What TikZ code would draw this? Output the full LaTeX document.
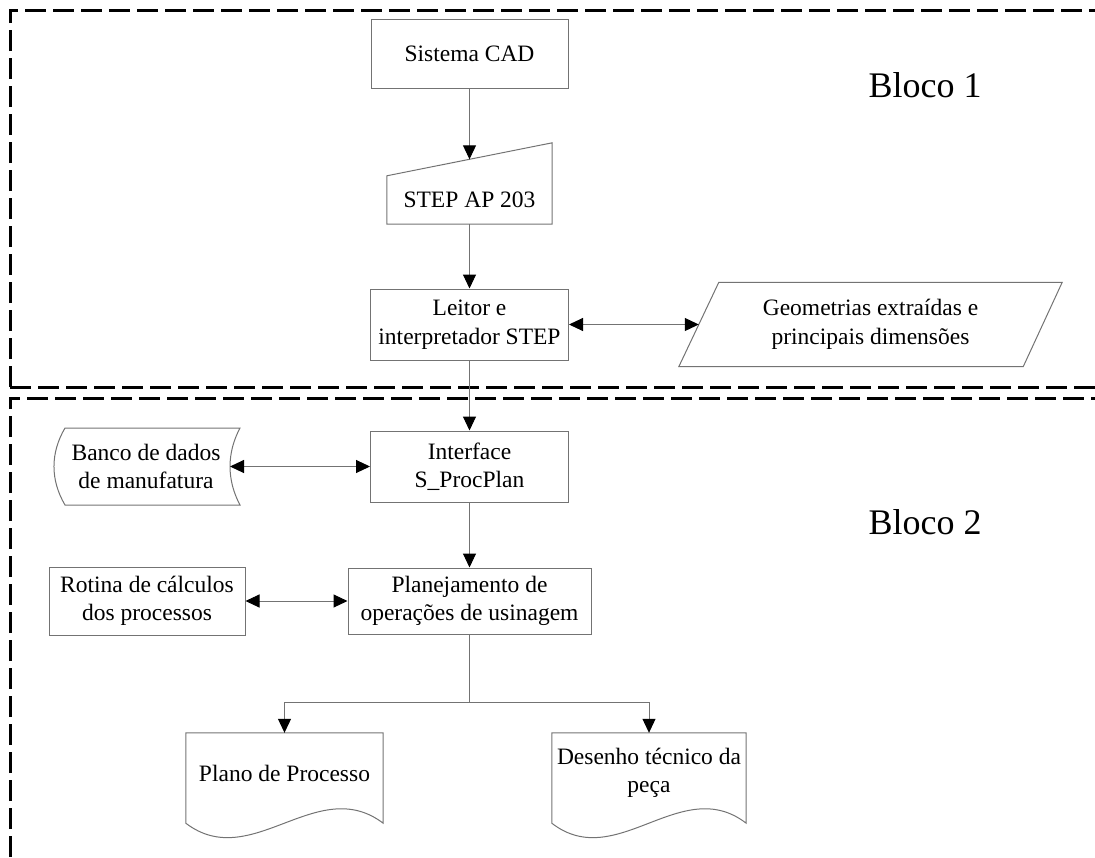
\documentclass[tikz,border=0pt]{standalone}
\usepackage{fontspec}
\setmainfont{Liberation Serif}
\usetikzlibrary{arrows.meta,calc}
\definecolor{linec}{gray}{0.45}
\begin{document}
\begin{tikzpicture}[x=1pt,y=-1pt,
  txt/.style={font=\fontsize{23.5}{28.5}\selectfont, align=center, inner sep=0pt},
  box/.style={txt, draw=linec, line width=1pt},
  shp/.style={draw=linec, line width=1pt},
  arr/.style={draw=linec, line width=1pt, -{Triangle[length=14pt,width=13pt,color=black]}},
  darr/.style={draw=linec, line width=1pt, {Triangle[length=14pt,width=13pt,color=black]}-{Triangle[length=14pt,width=13pt,color=black]}},
  con/.style={draw=linec, line width=1pt},
  blk/.style={draw=black, line width=3pt, dash pattern=on 21pt off 7pt},
  blabel/.style={font=\fontsize{36}{40}\selectfont, inner sep=0pt}]
\path[use as bounding box] (0,0) rectangle (1095,857);
% block frames
\draw[blk] (10,387) -- (10,10) -- (1095,10);
\draw[blk] (10,387) -- (1095,387);
\draw[blk] (10,857) -- (10,398) -- (1095,398);
\node[blabel] (b1) at (925,85) {Bloco 1};
\node[blabel] (b2) at (925,522) {Bloco 2};
% nodes
\node[box, minimum width=197, minimum height=69] (cad) at (469.5,53.5) {Sistema CAD};
\node[txt, minimum width=165, minimum height=48] (step) at (469.5,200) {STEP AP 203};
\draw[shp] (step.north west) -- (step.south west) -- (step.south east) -- ($(step.north east)+(0,-33)$) -- cycle;
\coordinate (steptop) at ($(step.north)+(0,-16.5)$);
\node[box, minimum width=198, minimum height=71] (leitor) at (469.5,324.5) {Leitor e\\interpretador STEP};
\node[txt, minimum width=383, minimum height=84] (geo) at (870.5,324.5) {Geometrias extraídas e\\principais dimensões};
\draw[shp] ($(geo.north west)+(40,0)$) -- (geo.north east) -- ($(geo.south east)+(-39,0)$) -- (geo.south west) -- cycle;
\coordinate (geoin) at ($(geo.west)+(20,0)$);
\node[box, minimum width=198, minimum height=71] (iface) at (469.5,466.5) {Interface\\S\_ProcPlan};
\node[txt] (banco) at (146,466.5) {Banco de dados\\de manufatura};
\draw[shp] (65,428) -- (240,428) .. controls (226.7,453) and (226.7,480) .. (240,505) -- (65,505) .. controls (50.3,480) and (50.3,453) .. (65,428) -- cycle;
\coordinate (bancoin) at (230,466.5);
\node[box, minimum width=243, minimum height=66] (plan) at (469.5,601) {Planejamento de\\operações de usinagem};
\node[box, minimum width=196, minimum height=68] (rotina) at (147,601) {Rotina de cálculos\\dos processos};
\node[txt, minimum width=197, minimum height=80] (plano) at (284.5,773) {Plano de Processo};
\draw[shp] (plano.north west) -- ($(plano.south west)+(0,10)$) .. controls ($(plano.south west)+(65.7,60)$) and ($(plano.south west)+(131.3,-40)$) .. ($(plano.south east)+(0,10)$) -- (plano.north east) -- cycle;
\node[txt, minimum width=194, minimum height=80] (desenho) at (649,773) {Desenho técnico da\\peça};
\draw[shp] (desenho.north west) -- ($(desenho.south west)+(0,10)$) .. controls ($(desenho.south west)+(64.7,60)$) and ($(desenho.south west)+(129.3,-40)$) .. ($(desenho.south east)+(0,10)$) -- (desenho.north east) -- cycle;
\coordinate (split) at (469.5,702);
% connectors
\draw[arr] (cad.south) -- (steptop);
\draw[arr] (step.south) -- (leitor.north);
\draw[darr] (leitor.east) -- (geoin);
\draw[arr] (leitor.south) -- (iface.north);
\draw[darr] (bancoin) -- (iface.west);
\draw[arr] (iface.south) -- (plan.north);
\draw[darr] (rotina.east) -- (plan.west);
\draw[con] (plan.south) -- (split);
\draw[arr] (split) -| (plano.north);
\draw[arr] (split) -| (desenho.north);
\end{tikzpicture}
\end{document}
